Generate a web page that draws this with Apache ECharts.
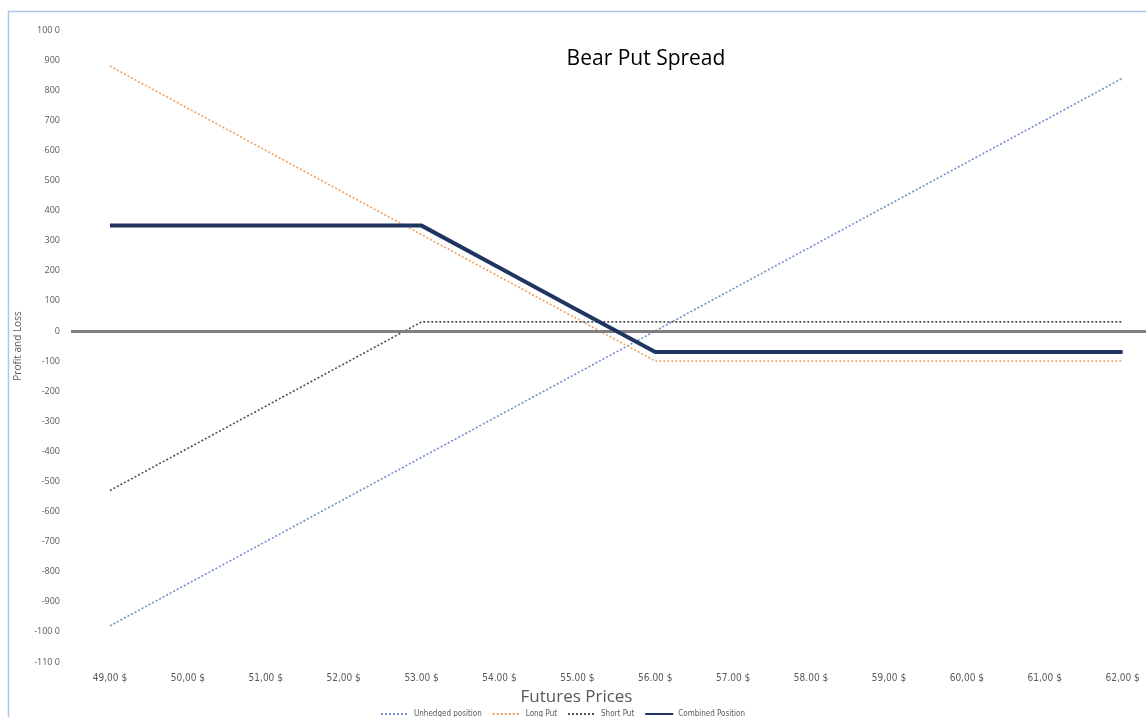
<!DOCTYPE html>
<html>
<head>
<meta charset="utf-8">
<script src="https://cdn.jsdelivr.net/npm/echarts@6/dist/echarts.min.js"></script>
<style>
html,body{margin:0;padding:0;background:#fff;}
#chart{width:1146px;height:717px;}
</style>
</head>
<body>
<div id="chart"></div>
<script>
const prices = [49,50,51,52,53,54,55,56,57,58,59,60,61,62];
const priceLabels = ["49,00 $","50,00 $","51,00 $","52,00 $","53.00 $","54.00 $","55.00 $","56.00 $","57.00 $","58.00 $","59,00 $","60,00 $","61,00 $","62,00 $"];
const unhedged = [-980,-840,-700,-560,-420,-280,-140,0,140,280,420,560,700,840];
const longPut = [880,740,600,460,320,180,40,-100,-100,-100,-100,-100,-100,-100];
const shortPut = [-530,-390,-250,-110,30,30,30,30,30,30,30,30,30,30];
const combined = [350,350,350,350,350,210,70,-70,-70,-70,-70,-70,-70,-70];
const yLabelMap = {"1000":"100 0","-1000":"-100 0","-1100":"-110 0"};

const pairs = arr => prices.map((p,i)=>[p,arr[i]]);
const chart = echarts.init(document.getElementById('chart'), null, {renderer:'canvas'});
const narrow = "'Liberation Sans Narrow','DejaVu Sans Condensed',sans-serif";
const dotted = [2,2];
chart.setOption({
  animation:false,
  backgroundColor:'#ffffff',
  graphic:[{
    type:'rect', shape:{x:8.5,y:11.5,width:1200,height:800},
    style:{fill:'none',stroke:'#aec6ea',lineWidth:1.5}, z:-1
  }],
  title:{
    text:'Bear Put Spread', left:641, top:44, textAlign:'center',
    textStyle:{fontFamily:"'Open Sans',sans-serif",fontSize:21,fontWeight:'normal',color:'#000'}
  },
  legend:{
    bottom:-6, left:375, itemGap:10, itemWidth:28, itemHeight:8,
    itemStyle:{opacity:0},
    textStyle:{fontFamily:narrow,fontSize:8,color:'#595959'},
    data:['Unhedged position','Long Put','Short Put','Combined Position']
  },
  grid:{left:71, top:30, right:0, height:632},
  xAxis:{
    type:'value', min:48.5, max:62.3,
    name:'Futures Prices', nameLocation:'middle', nameGap:27,
    nameTextStyle:{fontFamily:"'Open Sans',sans-serif",fontSize:17,color:'#595959',padding:[0,0,0,-64]},
    axisLine:{show:false}, axisTick:{show:false},
    axisLabel:{margin:11,fontFamily:narrow,fontSize:10,color:'#595959',
      customValues:prices,
      formatter:v=>{const i=prices.indexOf(Math.round(v));return i>=0?priceLabels[i]:'';}},
    splitLine:{show:false}
  },
  yAxis:{
    type:'value', min:-1100, max:1000, interval:100,
    name:'Profit and Loss', nameLocation:'middle', nameGap:42, nameRotate:90,
    nameTextStyle:{fontFamily:"'Open Sans',sans-serif",fontSize:10,color:'#595959'},
    axisLine:{show:false}, axisTick:{show:false}, splitLine:{show:false},
    axisLabel:{margin:11,fontFamily:"'Open Sans',sans-serif",fontSize:9,color:'#595959',
      formatter:v=>yLabelMap[String(v)]||String(v)}
  },
  series:[
    {name:'Unhedged position',type:'line',data:pairs(unhedged),showSymbol:false,symbol:'none',
      lineStyle:{color:'#6f8fca',width:1.6,type:dotted},itemStyle:{color:'#6f8fca'},
      markLine:{silent:true,symbol:'none',label:{show:false},
        lineStyle:{color:'#7f7f7f',width:3,type:'solid'},data:[{yAxis:0}]}},
    {name:'Long Put',type:'line',data:pairs(longPut),showSymbol:false,symbol:'none',
      lineStyle:{color:'#f0a060',width:1.6,type:dotted},itemStyle:{color:'#f0a060'}},
    {name:'Short Put',type:'line',data:pairs(shortPut),showSymbol:false,symbol:'none',
      lineStyle:{color:'#505050',width:1.6,type:dotted},itemStyle:{color:'#505050'}},
    {name:'Combined Position',type:'line',data:pairs(combined),showSymbol:false,symbol:'none',
      lineStyle:{color:'#1f3560',width:4},itemStyle:{color:'#1f3560'},z:5}
  ]
});
</script>
</body>
</html>
